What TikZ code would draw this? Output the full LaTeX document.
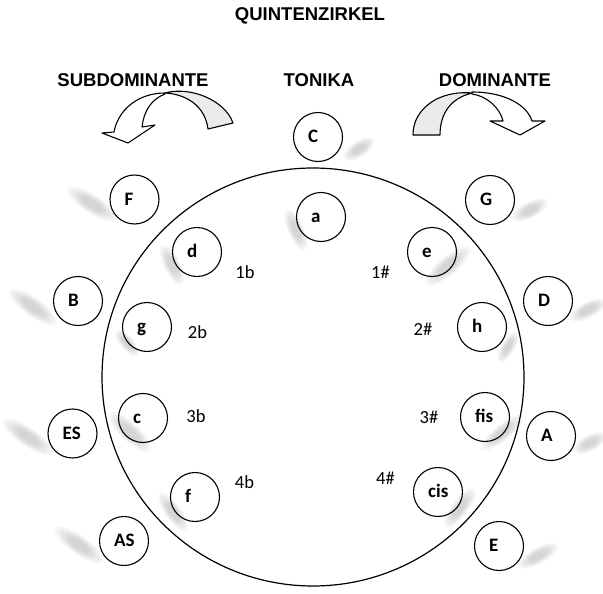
\documentclass[tikz,border=0pt]{standalone}
\usepackage{fontspec}
\setmainfont{Carlito}
\newfontfamily\headfont{Liberation Sans}

% a key in the circle: ring plus its name, set slightly left of centre
\newcommand\keycircle[3]{%
  \node[keyring] (#1) at (#2) {};
  \node[keytext] (#1-t) at ([shift={(-10pt,-5.5pt)}]#1.center) {#3};}
% soft grey shadow streak next to a ring
\newcommand\smudge[5]{%
  \foreach \k in {1.1,0.95,0.8,0.65,0.5}{%
    \fill[black, opacity=0.035, rotate around={#3:(#1,#2)}]
      (#1,#2) ellipse [x radius=\k*#4, y radius=\k*#5*1.2];}}

\begin{document}
\begin{tikzpicture}[x=1pt,y=-1pt,
  keyring/.style={circle, draw, line width=1.1pt, minimum size=49pt, inner sep=0pt},
  keytext/.style={anchor=base west, inner sep=0pt, font=\fontsize{19}{21}\selectfont\bfseries},
  numtext/.style={anchor=base, inner sep=0pt, font=\fontsize{18.5}{20}\selectfont},
  headtext/.style={anchor=base, inner sep=0pt, font=\headfont\fontsize{18.5}{20}\selectfont\bfseries},
  ribbon/.style={draw, line width=1.1pt, line join=round, fill=white},
  ribbonback/.style={draw, line width=1.1pt, line join=round, fill=black!8}]

\useasboundingbox (0,0) rectangle (603,594);

% shadow streaks
\smudge{92}{204}{-33}{26}{7}
\smudge{33}{307}{-36}{26}{7}
\smudge{28}{437}{-34}{27}{7}
\smudge{79}{545}{-35}{26}{7}
\smudge{172}{265}{-64}{20}{6}
\smudge{296}{230}{-67}{20}{6}
\smudge{130}{432}{-43}{25}{7}
\smudge{173}{512}{-54}{21}{6}
\smudge{127}{343}{-50}{15}{5}
\smudge{359}{149}{33}{16}{6}
\smudge{530}{210}{28}{18}{6}
\smudge{448}{266}{40}{26}{7}
\smudge{588}{310}{28}{18}{6}
\smudge{508}{347}{60}{16}{5}
\smudge{502}{433}{39}{24}{6}
\smudge{590}{443}{28}{16}{6}
\smudge{460}{508}{53}{22}{6}
\smudge{538}{556}{29}{20}{6}

% headings
\node[headtext] (title) at (310,21) {QUINTENZIRKEL};
\node[headtext] (tonika) at (319,87) {TONIKA};
\node[headtext] (sub) at (133,87) {SUBDOMINANTE};
\node[headtext] (dom) at (495,87) {DOMINANTE};

% curved arrow to the left
\draw[ribbonback] (208,129) -- (233,123)
  .. controls (225,100) and (190,86) .. (165,93)
  .. controls (185,94) and (205,105) .. (208,129) -- cycle;
\draw[ribbon] (165,93) .. controls (138,93) and (118,110) .. (114,132)
  -- (102,133) -- (128,143) -- (155,125) -- (142,127)
  .. controls (144,110) and (152,99) .. (165,94) -- cycle;

% curved arrow to the right
\draw[ribbonback] (413,135) -- (440,135)
  .. controls (440,112) and (452,98) .. (472,93)
  .. controls (440,90) and (413,108) .. (413,135) -- cycle;
\draw[ribbon] (472,92) .. controls (505,92) and (527,105) .. (532,121)
  -- (545,121) -- (520,135) -- (490,121) -- (503,121)
  .. controls (500,108) and (487,96) .. (472,94) -- cycle;

% the big circle
\draw[line width=1.2pt] (313,377) ellipse [x radius=211, y radius=209];

% major keys, outside
\keycircle{C}{318,137}{C}
\keycircle{G}{490,200}{G}
\keycircle{D}{548,301}{D}
\keycircle{A}{551,436}{A}
\keycircle{E}{499,546}{E}
\keycircle{F}{134.5,199.5}{F}
\keycircle{B}{78,301}{B}
\keycircle{ES}{72.5,433.5}{ES}
\keycircle{AS}{124,541}{AS}

% minor keys, inside
\keycircle{a}{321,217}{a}
\keycircle{e}{432,252}{e}
\keycircle{h}{482,327}{h}
\keycircle{fis}{485,417}{fis}
\keycircle{cis}{438,492}{cis}
\keycircle{d}{197,252}{d}
\keycircle{g}{147,327}{g}
\keycircle{c}{143,418}{c}
\keycircle{f}{195,497}{f}

% accidentals
\node[numtext] (b1) at (245,278) {1b};
\node[numtext] (b2) at (197.5,338) {2b};
\node[numtext] (b3) at (196,422) {3b};
\node[numtext] (b4) at (244.5,488) {4b};
\node[numtext] (s1) at (380.5,278) {1\#};
\node[numtext] (s2) at (423,335) {2\#};
\node[numtext] (s3) at (429,423) {3\#};
\node[numtext] (s4) at (385.5,484) {4\#};
\end{tikzpicture}
\end{document}
